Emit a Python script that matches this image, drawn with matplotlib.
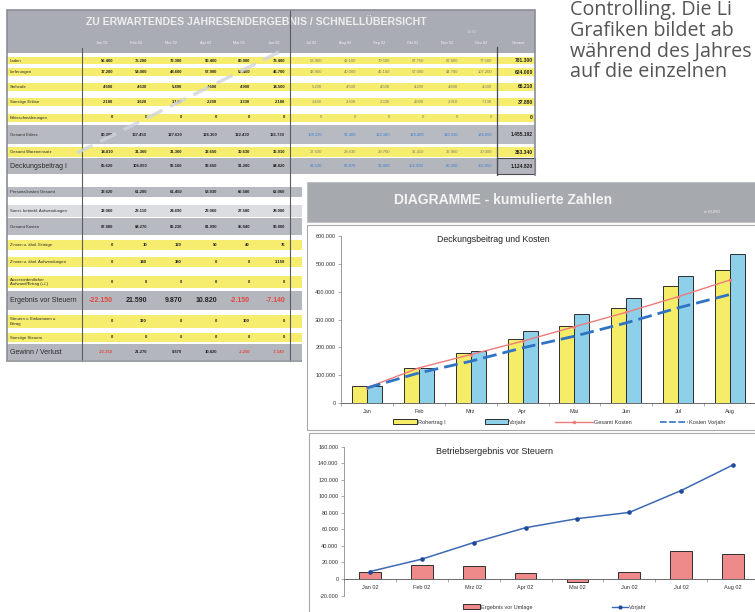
import matplotlib
import numpy as np

matplotlib.use("Agg")
import matplotlib.pyplot as plt
from matplotlib.lines import Line2D
from matplotlib.patches import Patch, Rectangle
from matplotlib.ticker import FuncFormatter

W, H = 755, 612

# ---- table data -------------------------------------------------------
table_title = "ZU ERWARTENDES JAHRESENDERGEBNIS / SCHNELLÜBERSICHT"
table_date = "1.6.02"
table_months = ["Jan 02", "Feb 02", "Mrz 02", "Apr 02", "Mai 02", "Jun 02",
                "Jul 02", "Aug 02", "Sep 02", "Okt 02", "Nov 02", "Dez 02"]
total_label = "Gesamt"

row_labels = [
    "Laden",
    "Lieferungen",
    "Stehcafe",
    "Sonstige Erlöse",
    "Erlösschmälerungen",
    "Gesamt Erlöse",
    "Gesamt Wareneinsatz",
    "Deckungsbeitrag I",
    "Personalkosten Gesamt",
    "Sonst. betriebl. Aufwendungen",
    "Gesamt Kosten",
    "Zinsen u. ähnl. Erträge",
    "Zinsen u. ähnl. Aufwendungen",
    "Ausserordentlicher\nAufwand/Ertrag (+/-)",
    "Ergebnis vor Steuern",
    "Steuern v. Einkommen u.\nErtrag",
    "Sonstige Steuern",
    "Gewinn / Verlust",
]

# Jan - Jun
first_half = [
    [56400, 75200, 73300, 90400, 80900, 78400],
    [17200, 54000, 48600, 57900, 54400, 46700],
    [4600, 4630, 5490, 4600, 4900, 14500],
    [2180, 3620, 3140, 2200, 3330, 2180],
    [0, 0, 0, 0, 0, 0],
    [80380, 137450, 127620, 126300, 122430, 121730],
    [14810, 31360, 31360, 32650, 30630, 36910],
    [65620, 106090, 96160, 93650, 91200, 84820],
    [33620, 61280, 61450, 58930, 66580, 62060],
    [32060, 23110, 24690, 23060, 27580, 28000],
    [87880, 84270, 86230, 81990, 95840, 90800],
    [0, 10, 120, 50, 40, 76],
    [0, 140, 380, 0, 0, 3150],
    [0, 0, 0, 0, 0, 0],
    [-22150, 21590, 9870, 10820, -2150, -7140],
    [0, 320, 0, 0, 100, 0],
    [0, 0, 0, 0, 0, 0],
    [-22150, 21270, 9870, 10820, -2250, -7140],
]

# Jul - Dez (only the rows that are not hidden by the chart panel)
second_half = [
    [53900, 42100, 70500, 67750, 67800, 77500],
    [48900, 40000, 45100, 57000, 44700, 107200],
    [5200, 4500, 4500, 4200, 4800, 4300],
    [3450, 2300, 2300, 4000, 2910, 7130],
    [0, 0, 0, 0, 0, 0],
    [108190, 91400, 122180, 134400, 120310, 186650],
    [27630, 28630, 29760, 31410, 32960, 30000],
    [81520, 62870, 92400, 102990, 86260, 155650],
]
row_totals = [781300, 624000, 66210, 37880, 0, 1455192, 363340, 1124820]

# ---- chart data -------------------------------------------------------
panel_title = "DIAGRAMME - kumulierte Zahlen"
chart_months = ["Jan", "Feb", "Mrz", "Apr", "Mai", "Jun", "Jul", "Aug"]
rohertrag = [60000, 124000, 179000, 231000, 276000, 342000, 419000, 477000]
rohertrag_vorjahr = [60000, 124000, 188000, 257000, 321000, 379000, 456000, 535000]
gesamt_kosten = [55000, 126000, 174000, 222000, 274000, 326000, 382000, 442000]
kosten_vorjahr = [54000, 108000, 150000, 198000, 240000, 288000, 342000, 390000]

result_months = ["Jan 02", "Feb 02", "Mrz 02", "Apr 02", "Mai 02", "Jun 02", "Jul 02", "Aug 02"]
ergebnis_vor_umlage = [8000, 17000, 16000, 7000, -4000, 8000, 34000, 30000]
ergebnis_vorjahr = [9000, 24000, 44000, 62000, 73000, 80500, 107000, 138000]

side_text = ["Controlling. Die Li", "Grafiken bildet ab", "während des Jahres", "auf die einzelnen"]

# ---- layout (pixels) ----------------------------------------------------
row_y = [60.5, 72, 87, 102, 117.5, 134.5, 152, 166, 192, 211, 226.5,
         245, 262, 282, 300.5, 321.5, 337.5, 352]
row_h = [7.5, 7.5, 7.5, 7.5, 8, 19, 10, 16, 10, 12, 17, 10, 10, 12, 19, 13, 9, 16]
row_kind = ["y", "y", "y", "y", "y", "g", "y", "G", "g", "l", "g",
            "y", "y", "y", "G", "y", "y", "G"]
band_colors = {"y": "#f6ec6e", "g": "#b7bac1", "G": "#b3b6bd", "l": "#dcdde1"}
h1_right = [113, 147, 182, 217, 250, 285]
h2_right = [322, 356, 390, 424, 458, 492]
total_right = 533

YELLOW = "#f5ec68"
BLUE = "#8ecfe9"
RED_LINE = "#ee7b7b"
DASH_BLUE = "#2f73c4"
SALMON = "#ef8a8a"
LINE_BLUE = "#3d69b3"


def de(v):
    return f"{int(round(v)):,}".replace(",", ".")


def axes_rect(x0, x1, y_bottom, y_top):
    return [x0 / W, 1 - y_bottom / H, (x1 - x0) / W, (y_bottom - y_top) / H]


def draw_table(ax):
    ax.add_patch(Rectangle((7, 10), 528, 43, facecolor="#a9acb4", edgecolor="none", zorder=1))
    ax.text(86, 22, table_title, ha="left", va="center", fontsize=7.6,
            fontweight="bold", color="#eeeeee", zorder=3)
    ax.text(472, 32, table_date, ha="center", va="center", fontsize=2.5, color="#dddddd", zorder=3)

    for j, m in enumerate(table_months):
        x = (h1_right + h2_right)[j] - 11
        ax.text(x, 43, m, ha="center", va="center", fontsize=2.8, color="#f2f2f2", zorder=3)
    ax.text(total_right - 15, 43, total_label, ha="center", va="center", fontsize=2.8,
            color="#f2f2f2", zorder=3)

    for i, label in enumerate(row_labels):
        yc, h, kind = row_y[i], row_h[i], row_kind[i]
        ax.add_patch(Rectangle((7, yc - h / 2), 528, h, facecolor=band_colors[kind],
                               edgecolor="none", zorder=1))
        big = kind == "G"
        label_size = 5 if big else 3.1
        ax.text(10, yc, label, ha="left", va="center", fontsize=label_size,
                color="#2a2a2a", linespacing=1.0, zorder=3)

        emphasis = label == "Ergebnis vor Steuern"
        for j, v in enumerate(first_half[i]):
            color = "#e4473f" if v < 0 else "#222222"
            ax.text(h1_right[j], yc, de(v), ha="right", va="center",
                    fontsize=5 if emphasis else 3.0,
                    fontweight="bold", color=color, zorder=3)

        if i < len(second_half):
            h2_color = "#3b7fd0" if kind != "y" else "#7a7a6a"
            for j, v in enumerate(second_half[i]):
                ax.text(h2_right[j], yc, de(v), ha="right", va="center", fontsize=3.0,
                        color=h2_color, zorder=3)
            ax.text(total_right, yc, de(row_totals[i]), ha="right", va="center",
                    fontsize=3.6, fontweight="bold", color="#1e1e1e", zorder=3)

    ax.plot([82, 82], [48, 361], color="#5a5c62", lw=0.8, zorder=4)
    ax.plot([290, 290], [10, 361], color="#5a5c62", lw=0.8, zorder=4)
    ax.plot([497, 497], [47, 178], color="#4a4c52", lw=0.9, zorder=4)
    ax.add_patch(Rectangle((497, 158), 38, 16, fill=False, edgecolor="#4a4c52", lw=0.8, zorder=4))
    ax.add_patch(Rectangle((7, 10), 528, 351, fill=False, edgecolor="#8a8d95", lw=1.2, zorder=4))

    # faint dashed stroke running across the sheet
    ax.plot([77, 283], [153, 50], color="#d0d4dc", lw=2.5, dashes=(5, 2.5),
            alpha=0.8, zorder=4, solid_capstyle="butt")


def draw_panel(ax):
    ax.add_patch(Rectangle((302, 176), 470, 450, facecolor="white", edgecolor="none", zorder=5))
    ax.add_patch(Rectangle((307, 182), 460, 40, facecolor="#a6a9ae", edgecolor="#bfc1c5",
                           lw=0.8, zorder=6))
    ax.text(503, 200, panel_title, ha="center", va="center", fontsize=10,
            fontweight="bold", color="#f4f4f4", zorder=7)
    ax.text(712, 212, "in EURO", ha="center", va="center", fontsize=3, color="#eeeeee", zorder=7)
    ax.add_patch(Rectangle((307, 225), 460, 205, facecolor="white", edgecolor="#a9a9a9",
                           lw=0.8, zorder=6))
    ax.add_patch(Rectangle((309, 433), 460, 200, facecolor="white", edgecolor="#a9a9a9",
                           lw=0.8, zorder=6))

    for k, line in enumerate(side_text):
        ax.text(570, 15 + k * 20.7, line, ha="left", va="baseline", fontsize=14.2,
                family="Open Sans", color="#555555", zorder=7)


def style_axis(ax):
    ax.set_facecolor("none")
    for side in ("top", "right"):
        ax.spines[side].set_visible(False)
    ax.spines["left"].set_color("#8a8a8a")
    ax.spines["left"].set_linewidth(0.6)
    ax.spines["bottom"].set_color("#6a6a6a")
    ax.spines["bottom"].set_linewidth(0.7)
    ax.yaxis.set_major_formatter(FuncFormatter(lambda v, _: de(v)))
    ax.tick_params(axis="y", labelsize=4, length=2, width=0.5, colors="#8a8a8a",
                   labelcolor="#333333", pad=2)
    ax.tick_params(axis="x", which="major", labelsize=4, length=0, labelcolor="#333333", pad=4)
    ax.tick_params(axis="x", which="minor", length=2, width=0.5, colors="#8a8a8a")
    ax.set_xlim(-0.5, 7.5)
    ax.set_xticks(np.arange(-0.5, 8, 1), minor=True)


def add_legend_item(fig, handle, label, x_px, y_px, handle_px, fontsize=4):
    fs_px = fontsize * 100 / 72
    fig.legend([handle], [label], loc="center left",
               bbox_to_anchor=(x_px / W, 1 - y_px / H), frameon=False,
               fontsize=fontsize, handlelength=handle_px / fs_px, handleheight=0.8,
               handletextpad=0.25, borderpad=0, borderaxespad=0, labelcolor="#333333")


def draw_top_chart(fig):
    ax = fig.add_axes(axes_rect(341, 756, 403, 236), zorder=10)
    style_axis(ax)
    x = np.arange(len(chart_months))
    bw = 0.29
    ax.bar(x - bw / 2, rohertrag, bw, color=YELLOW, edgecolor="#2e2e2e", lw=0.7, zorder=2)
    ax.bar(x + bw / 2, rohertrag_vorjahr, bw, color=BLUE, edgecolor="#2e2e2e", lw=0.7, zorder=2)
    ax.plot(x, gesamt_kosten, color=RED_LINE, lw=1.0, marker="o", markersize=1.2, zorder=3)
    ax.plot(x, kosten_vorjahr, color=DASH_BLUE, lw=2.0, dashes=(5, 2.2), zorder=3)
    ax.set_ylim(0, 600000)
    ax.set_yticks(np.arange(0, 600001, 100000))
    ax.set_xticks(x)
    ax.set_xticklabels(chart_months)
    fig.text(493 / W, 1 - 240 / H, "Deckungsbeitrag und Kosten", ha="center", va="center",
             fontsize=6.3, color="#222222", zorder=11)

    add_legend_item(fig, Patch(facecolor=YELLOW, edgecolor="#2e2e2e", lw=0.7),
                    "Rohertrag I", 393, 422, 24)
    add_legend_item(fig, Patch(facecolor=BLUE, edgecolor="#2e2e2e", lw=0.7),
                    "Vorjahr", 485, 422, 23)
    add_legend_item(fig, Line2D([], [], color=RED_LINE, lw=1.0, marker="o", markersize=1.5),
                    "Gesamt Kosten", 555, 422, 38)
    add_legend_item(fig, Line2D([], [], color=DASH_BLUE, lw=1.2, dashes=(4, 1.5)),
                    "Kosten Vorjahr", 660, 422, 28)


def draw_bottom_chart(fig):
    ax = fig.add_axes(axes_rect(344, 759, 595.5, 446.7), zorder=10)
    style_axis(ax)
    ax.spines["bottom"].set_position(("data", 0))
    x = np.arange(len(result_months))
    ax.bar(x, ergebnis_vor_umlage, 0.42, color=SALMON, edgecolor="#2e2e2e", lw=0.7, zorder=2)
    ax.plot(x, ergebnis_vorjahr, color=LINE_BLUE, lw=1.1, marker="o", markersize=2.3,
            markerfacecolor="#1f4a9a", markeredgecolor="#1f4a9a", zorder=3)
    ax.set_ylim(-20000, 160000)
    ax.set_yticks(np.arange(-20000, 160001, 20000))
    ax.set_xticks(x)
    ax.set_xticklabels(result_months)
    fig.text(495 / W, 1 - 452 / H, "Betriebsergebnis vor Steuern", ha="center", va="center",
             fontsize=6.5, color="#222222", zorder=11)

    add_legend_item(fig, Patch(facecolor=SALMON, edgecolor="#2e2e2e", lw=0.7),
                    "Ergebnis vor Umlage", 463, 607, 17)
    add_legend_item(fig, Line2D([], [], color=LINE_BLUE, lw=1.0, marker="o", markersize=2,
                                markerfacecolor="#1f4a9a", markeredgecolor="#1f4a9a"),
                    "Vorjahr", 612, 607, 16)


def main():
    plt.rcParams["font.family"] = ["Liberation Sans", "DejaVu Sans"]
    fig = plt.figure(figsize=(W / 100, H / 100), dpi=100)
    fig.patch.set_facecolor("white")

    ax_bg = fig.add_axes([0, 0, 1, 1], zorder=0)
    ax_bg.set_xlim(0, W)
    ax_bg.set_ylim(H, 0)
    ax_bg.axis("off")

    draw_table(ax_bg)
    draw_panel(ax_bg)
    draw_top_chart(fig)
    draw_bottom_chart(fig)

    fig.savefig("out.png", dpi=100)
    plt.close(fig)


if __name__ == "__main__":
    main()
